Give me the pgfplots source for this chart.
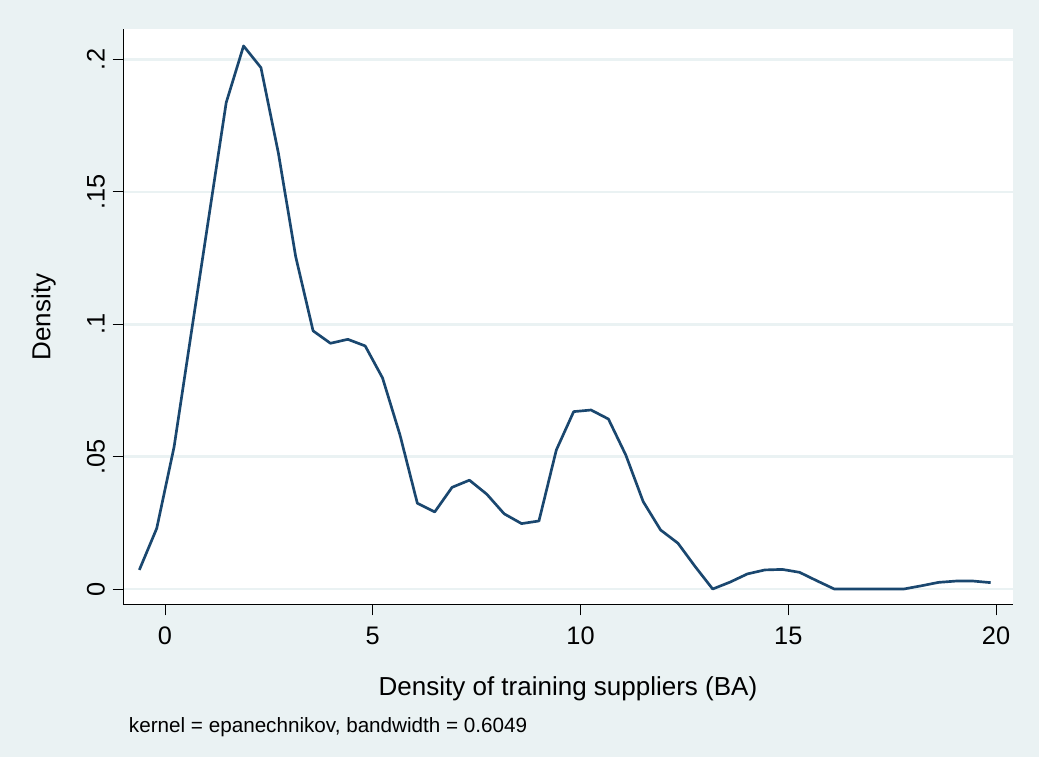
\documentclass[border=0pt]{standalone}
\usepackage{fontspec}
\setmainfont{Liberation Sans}
\usepackage{pgfplots}
\pgfplotsset{compat=1.18}

\definecolor{bgc}{RGB}{234,242,243}
\definecolor{gridc}{RGB}{234,242,243}
\definecolor{stnavy}{RGB}{26,71,111}

\begin{document}
\begin{tikzpicture}
\useasboundingbox (-92.5pt,-114.2pt) rectangle (686.8pt,453.5pt);
\fill[bgc] (-92.5pt,-114.2pt) rectangle (686.8pt,453.5pt);
\begin{axis}[
    scale only axis,
    width=667.05pt, height=431.55pt,
    xmin=-1.004, xmax=20.40,
    ymin=-0.0059, ymax=0.2114,
    axis x line*=bottom, axis y line*=left,
    axis line style={black, line width=0.75pt},
    axis background/.style={fill=white},
    tick align=outside,
    major tick length=8pt,
    tick style={black, line width=0.75pt},
    xtick={0,5,10,15,20},
    xticklabels={0,5,10,15,20},
    ytick={0,0.05,0.1,0.15,0.2},
    yticklabels={0,.05,.1,.15,.2},
    ymajorgrids,
    grid style={gridc, line width=2pt},
    /pgf/number format/assume math mode=true,
    tick label style={font=\fontsize{19}{22}\selectfont},
    xticklabel style={anchor=north, inner sep=0pt},
    yticklabel style={anchor=base, inner sep=0pt, rotate=90},
    xticklabel shift=8.3pt,
    yticklabel shift=6pt,
    label style={font=\fontsize{19.5}{23}\selectfont},
    xlabel={Density of training suppliers (BA)},
    ylabel={Density},
    xlabel style={at={(axis description cs:0.5,-0.1573)}, anchor=base},
    ylabel style={at={(axis description cs:-0.082,0.5)}, anchor=base, rotate=0},
]
\addplot[stnavy, line width=2pt, line join=round] coordinates {
    (-0.619,0.0072) (-0.200,0.0229) (0.218,0.0537) (0.636,0.0972)
    (1.054,0.1405) (1.472,0.1837) (1.890,0.2051) (2.308,0.1969)
    (2.727,0.1647) (3.145,0.1255) (3.563,0.0975) (3.981,0.0928)
    (4.399,0.0943) (4.817,0.0918) (5.235,0.0797) (5.654,0.0582)
    (6.072,0.0324) (6.490,0.0291) (6.908,0.0384) (7.326,0.0411)
    (7.744,0.0358) (8.162,0.0284) (8.581,0.0247) (8.999,0.0257)
    (9.417,0.0525) (9.835,0.0670) (10.253,0.0676) (10.671,0.0642)
    (11.089,0.0506) (11.508,0.0330) (11.926,0.0223) (12.344,0.0173)
    (12.762,0.0084) (13.180,0.0000) (13.598,0.0026) (14.016,0.0057)
    (14.435,0.0072) (14.853,0.0074) (15.271,0.0063) (15.689,0.0031)
    (16.107,0.0000) (16.525,0.0000) (16.943,0.0000) (17.362,0.0000)
    (17.780,0.0000) (18.198,0.0012) (18.616,0.0025) (19.034,0.0030)
    (19.452,0.0030) (19.871,0.0024)
};
\end{axis}
% note under the axis title
\node[anchor=base west, inner sep=0pt, font=\fontsize{15.5}{18}\selectfont]
    at (4.05pt,-96pt) {kernel = epanechnikov, bandwidth = 0.6049};
\end{tikzpicture}
\end{document}
